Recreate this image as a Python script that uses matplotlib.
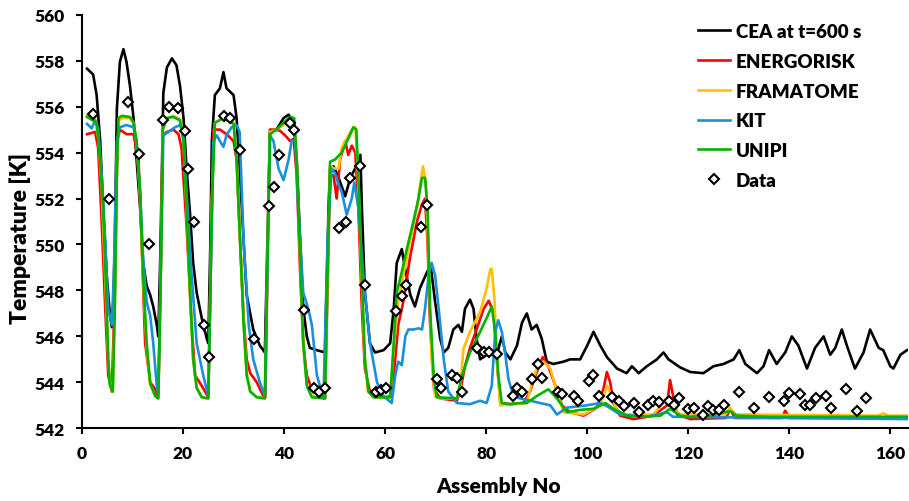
import matplotlib
matplotlib.use("Agg")
import matplotlib.pyplot as plt

plt.rcParams['font.family'] = ['Lato', 'DejaVu Sans']
plt.rcParams['font.weight'] = 'bold'

# ---------------- data ----------------
cea_x = [1.0,2.2,2.9,3.6,4.2,4.9,5.5,5.9,6.2,6.5,6.9,7.5,8.2,8.8,9.5,10.2,10.8,11.5,12.1,12.8,13.5,14.1,14.8,15.1,15.5,15.8,16.1,16.8,17.8,18.7,19.4,20.1,20.7,21.4,22.0,22.7,23.7,24.7,25.0,25.4,25.7,26.3,27.3,28.0,28.6,30.0,30.6,31.3,32.0,32.6,33.9,35.2,36.2,36.7,37.2,38.5,39.9,40.9,41.9,42.5,43.2,43.8,44.5,45.1,46.5,48.1,48.8,49.1,49.8,50.8,52.1,53.1,54.3,55.1,55.4,56.0,57.0,58.0,59.7,61.0,61.7,62.3,63.3,64.0,65.0,65.9,66.9,68.3,69.0,69.9,70.9,71.6,72.5,73.5,74.5,75.2,75.8,76.8,77.5,78.1,78.8,80.1,82.1,83.1,83.8,84.8,86.1,87.1,88.05,89.0,90.0,91.0,92.0,93.3,95.3,96.6,98.6,100.0,101.25,102.6,103.9,105.9,107.8,108.85,110.2,111.8,113.8,115.1,116.1,118.4,120.4,123.0,125.0,127.0,129.0,130.1,131.3,133.6,134.9,136.0,137.5,139.2,140.5,141.8,143.5,145.1,146.8,148.1,149.1,150.4,151.4,153.0,154.7,156.0,157.7,158.6,160.0,160.6,162.0,163.3]
cea_y = [557.65,557.4,556.5,554.5,551.6,548.65,547.0,546.4,547.5,550.1,555.9,557.95,558.5,557.95,556.9,555.5,553.7,551.6,549.2,548.2,547.8,547.3,546.5,546.0,549.5,553.0,556.6,557.7,558.1,557.8,556.9,555.5,553.3,551.3,549.2,547.9,546.8,545.9,545.7,550.0,554.5,556.5,556.8,557.5,556.8,556.5,555.5,553.0,550.1,547.8,546.3,545.6,545.3,550.0,554.9,555.0,555.5,555.65,555.3,553.7,550.1,547.2,546.0,545.5,545.4,545.3,551.6,553.3,553.4,552.9,552.1,552.9,553.4,553.9,551.6,547.9,545.7,545.3,545.4,545.7,547.2,549.2,549.8,548.9,547.8,547.3,548.1,548.8,549.1,547.5,545.9,545.3,545.5,546.3,546.5,546.2,547.2,547.6,547.2,545.9,545.0,545.2,545.2,546.0,545.3,545.0,545.6,546.6,547.0,546.3,546.5,545.9,544.9,544.8,544.9,545.0,545.0,545.6,546.2,545.6,545.1,544.6,544.4,544.7,544.4,544.7,545.0,545.3,545.0,544.65,544.45,544.4,544.7,544.8,545.0,545.4,544.8,544.4,544.7,545.4,544.8,545.3,546.0,545.6,544.6,545.5,546.0,545.2,545.5,546.3,545.6,544.6,545.3,546.3,545.5,545.4,544.7,544.6,545.2,545.4]

energ_x = [1.0,2.6,3.2,3.9,4.6,5.2,5.9,6.5,7.0,7.5,8.8,10.2,11.2,11.8,12.5,13.5,14.5,15.1,15.6,16.0,16.8,18.1,19.1,19.7,20.7,21.7,22.4,23.7,25.0,25.5,26.0,27.3,28.6,30.0,30.6,31.3,32.0,32.6,33.3,34.6,35.9,36.3,36.8,37.2,38.2,39.2,40.2,41.2,41.9,42.5,43.2,43.8,44.5,45.5,47.1,48.1,48.6,49.1,49.8,50.4,51.1,52.1,52.7,53.4,54.1,54.7,55.4,56.0,57.0,59.7,61.3,62.0,62.6,63.6,64.9,66.3,67.3,67.9,68.4,68.9,69.7,70.9,74.2,74.85,75.8,76.8,78.1,79.5,80.5,81.45,82.1,82.8,84.75,87.4,88.7,90.0,91.2,92.3,93.7,95.0,96.6,99.3,101.9,103.2,103.9,104.55,105.2,106.5,109.2,113.1,115.8,116.4,117.1,117.8,120.4,127.5,128.3,129.2,138.5,139.2,140.0,150.0,163.3]
energ_y = [554.8,554.9,554.2,551.0,547.2,544.3,543.6,548.0,554.5,555.0,554.8,554.8,553.7,550.1,545.7,544.0,543.7,543.35,549.0,554.75,554.9,555.0,554.8,554.2,550.8,546.5,544.3,543.85,543.35,549.0,555.0,555.0,554.8,554.5,553.7,550.1,546.8,545.0,544.4,544.0,543.4,543.35,550.0,555.0,555.0,554.95,554.75,554.5,554.6,553.0,548.65,545.7,544.3,543.7,543.4,543.3,548.0,553.0,553.0,552.0,553.7,554.5,553.9,554.3,554.0,551.6,547.2,544.6,543.6,543.35,543.4,545.0,546.5,547.5,549.4,551.0,551.75,552.0,550.1,546.5,543.7,543.3,543.2,543.6,544.7,545.5,546.3,547.2,547.55,547.05,545.0,543.1,543.05,543.1,543.6,544.45,545.1,544.7,543.85,543.0,542.7,542.55,542.9,543.7,544.45,544.0,543.1,542.55,542.4,542.55,543.0,544.1,543.3,542.6,542.4,542.45,542.85,542.45,542.45,542.77,542.45,542.45,542.45]

frama_x = [1.0,2.6,3.3,3.9,4.6,5.2,5.6,6.1,6.5,6.9,7.3,8.0,9.5,10.2,10.8,11.5,12.1,12.8,13.5,14.5,15.1,15.6,16.0,16.8,18.1,19.4,20.1,20.7,21.4,22.0,22.7,23.7,25.0,25.7,26.3,28.0,30.0,30.6,31.3,32.0,32.6,33.3,34.6,36.2,36.9,37.2,38.5,39.9,41.0,42.0,42.5,43.2,43.8,44.5,45.5,48.1,48.6,49.1,50.1,50.8,51.4,52.4,53.4,54.1,54.5,55.2,55.9,56.6,57.7,61.0,61.7,62.6,63.6,64.9,66.3,67.0,67.5,68.05,68.6,69.2,69.9,71.0,74.2,74.85,75.5,76.8,78.8,80.1,80.8,81.1,81.65,82.2,82.8,84.75,88.05,89.0,90.0,91.35,92.7,94.0,95.3,99.3,102.6,103.9,104.9,105.9,107.8,113.1,116.1,117.1,118.4,127.3,128.3,129.3,157.5,158.6,159.6,163.3]
frama_y = [555.6,555.5,554.5,552.5,548.5,545.0,543.8,543.6,547.5,553.5,555.4,555.5,555.5,555.3,554.4,552.0,548.4,545.5,543.9,543.4,543.3,549.0,555.1,555.5,555.6,555.45,554.5,551.5,547.8,545.0,543.8,543.35,543.3,552.0,555.3,555.5,555.3,553.8,550.2,546.6,544.4,543.6,543.35,543.3,551.8,554.9,555.0,555.2,555.4,555.4,553.6,549.3,545.6,543.9,543.4,543.3,548.5,553.4,553.3,553.3,554.2,554.6,555.0,555.1,553.7,549.5,545.3,543.6,543.35,543.35,545.5,547.5,548.65,550.1,551.6,552.7,553.4,552.7,549.4,545.0,543.4,543.3,543.3,543.7,545.45,546.2,547.05,548.1,548.9,548.95,547.6,544.7,543.0,543.05,543.1,543.9,544.6,544.9,544.6,543.6,542.7,542.6,543.0,543.85,543.4,542.75,542.6,542.6,543.4,542.85,542.6,542.6,542.9,542.6,542.55,542.65,542.55,542.55]

kit_x = [1.0,1.9,2.6,3.2,3.9,4.6,5.2,5.9,6.3,6.9,7.5,8.8,10.2,10.8,11.5,12.1,12.8,13.5,14.1,14.8,15.1,15.6,16.1,17.1,18.4,19.4,20.1,20.7,21.7,22.7,24.0,25.0,25.5,26.0,26.7,27.3,28.0,28.6,29.6,30.6,31.2,32.0,33.0,33.9,35.2,36.2,36.7,37.2,37.9,38.9,39.9,40.9,41.5,42.2,42.8,43.8,44.8,45.5,46.5,47.8,48.6,49.4,50.1,50.8,51.4,52.4,53.4,53.9,54.7,55.7,57.0,58.4,59.7,61.3,62.0,62.6,63.3,64.0,64.6,65.6,66.6,67.3,67.9,68.6,69.2,69.9,70.6,71.6,72.5,74.2,76.8,78.8,80.1,81.1,81.8,82.4,83.1,83.8,84.4,85.4,86.7,90.7,92.7,94.0,96.0,99.9,102.6,104.0,106.5,111.8,115.8,117.0,163.3]
kit_y = [555.25,555.05,555.4,555.05,553.0,550.1,547.2,546.5,548.65,554.5,555.1,555.2,555.1,554.5,552.3,549.4,547.5,546.9,545.7,543.85,543.5,549.0,554.75,554.9,555.1,555.2,554.75,552.3,548.65,545.7,544.3,543.4,549.0,554.5,554.75,554.5,554.25,554.75,555.1,555.2,554.9,550.1,546.5,545.0,544.0,543.4,549.0,554.75,554.5,553.3,552.8,553.7,554.5,554.5,551.6,547.9,547.2,546.5,544.3,543.3,550.1,553.3,553.1,552.6,552.3,551.3,552.0,552.7,551.6,548.65,545.7,544.0,543.4,543.1,544.3,544.9,544.75,546.0,546.3,546.3,546.35,546.3,547.2,548.65,549.2,548.65,547.2,545.0,543.6,543.1,543.05,543.2,543.1,543.85,546.2,546.7,546.2,545.2,544.15,543.4,543.3,543.1,543.0,542.6,542.9,543.0,543.1,542.95,542.6,542.5,542.7,542.5,542.4]

unipi_x = [1.0,2.9,3.6,4.2,4.9,5.2,5.5,6.1,6.5,6.9,7.2,7.9,9.5,10.2,10.8,11.5,12.1,12.8,13.5,14.5,15.1,15.6,16.0,16.8,18.1,19.4,20.1,20.7,21.4,22.0,22.7,23.7,25.0,25.7,26.3,28.0,30.0,30.6,31.3,32.0,32.6,33.3,34.6,36.2,36.9,37.2,38.5,39.9,41.2,42.0,42.5,43.2,43.8,44.5,45.5,48.1,48.6,49.1,50.1,51.4,52.7,53.7,54.3,54.7,55.4,56.0,56.7,57.7,61.0,61.7,62.3,63.3,64.3,65.6,66.6,67.3,67.9,68.4,68.9,69.6,70.2,74.2,75.2,76.8,78.8,80.1,81.1,81.8,82.4,83.1,84.75,86.7,88.05,90.0,92.3,94.0,96.0,98.6,101.25,103.6,105.2,107.8,110.5,114.5,116.4,118.4,120.4,124.3,128.3,129.6,136.2,142.8,149.4,158.6,163.3]
unipi_y = [555.55,555.3,553.7,551.6,547.2,545.0,543.9,543.6,547.2,553.0,555.5,555.6,555.55,555.3,554.5,552.3,548.65,545.7,543.95,543.4,543.3,548.65,555.0,555.5,555.55,555.4,554.5,551.6,547.9,545.0,543.75,543.35,543.3,551.6,555.3,555.5,555.25,553.7,550.1,546.5,544.3,543.6,543.35,543.3,551.6,554.8,555.0,555.3,555.55,555.5,553.7,549.4,545.7,543.85,543.35,543.3,548.65,553.6,553.7,554.0,554.6,555.1,555.0,553.0,548.65,545.0,543.6,543.35,543.35,545.7,547.9,548.8,549.8,551.0,552.0,552.9,552.9,551.6,547.2,544.3,543.35,543.3,544.3,545.3,546.2,546.8,547.3,546.2,544.3,543.1,543.05,543.1,543.1,543.4,543.7,543.3,542.7,542.8,542.85,543.1,542.85,542.55,542.5,542.55,542.85,542.55,542.5,542.55,542.75,542.55,542.5,542.5,542.5,542.5,542.5]

data_x = [2.1,5.4,9.2,11.3,13.3,16.1,17.2,19.1,20.3,20.9,22.2,24.2,25.2,28.1,29.2,31.2,34.1,37.1,38.1,38.9,41.1,42.05,44.0,46.0,47.0,48.1,50.96,52.2,53.1,55.05,56.1,58.2,59.2,60.2,62.2,63.3,64.2,67.2,68.3,70.2,71.1,73.2,74.3,75.2,78.15,79.5,80.5,82.2,85.3,86.2,87.1,89.05,90.2,91.15,94.2,95.1,97.3,98.15,100.3,101.1,102.4,105.0,106.2,107.2,109.2,110.3,112.1,113.0,114.25,116.1,117.1,118.1,120.0,121.15,123.0,124.0,125.0,126.0,127.0,130.1,133.1,136.0,139.0,140.0,142.1,143.1,144.1,145.25,147.2,148.2,151.25,153.4,155.2]
data_y = [555.7,551.96,556.2,553.95,550.0,555.4,555.97,555.94,554.95,553.3,550.98,546.5,545.1,555.6,555.5,554.1,545.9,551.66,552.5,553.9,555.3,555.0,547.15,543.77,543.57,543.77,550.7,551.0,552.9,553.4,548.24,543.57,543.67,543.77,547.1,547.75,548.24,550.74,551.73,544.15,543.74,544.3,544.2,543.57,545.5,545.3,545.3,545.25,543.4,543.75,543.6,544.15,544.8,544.2,543.6,543.5,543.4,543.2,544.05,544.3,543.4,543.35,543.2,542.95,543.1,542.7,543.0,543.2,543.15,543.2,543.0,543.3,542.85,542.9,542.6,542.95,542.8,542.8,543.0,543.6,542.9,543.35,543.2,543.55,543.5,543.0,543.0,543.3,543.4,542.9,543.7,542.75,543.3]

labels = ["CEA at t=600 s", "ENERGORISK", "FRAMATOME", "KIT", "UNIPI", "Data"]
colors = ["#000000", "#FF0000", "#FFC000", "#1A8FE0", "#00B400"]
x_ticks = [0, 20, 40, 60, 80, 100, 120, 140, 160]
y_ticks = [542, 544, 546, 548, 550, 552, 554, 556, 558, 560]

# ---------------- figure ----------------
W, H = 909, 502
fig = plt.figure(figsize=(W/100, H/100), dpi=100)
L, R, T, B = 82, 908, 15.7, 429.3
ax = fig.add_axes([L/W, 1-B/H, (R-L)/W, (B-T)/H])

series = [(cea_x, cea_y), (energ_x, energ_y), (frama_x, frama_y), (kit_x, kit_y), (unipi_x, unipi_y)]
for (xs, ys), c, lab in zip(series, colors, labels[:5]):
    ax.plot(xs, ys, color=c, lw=1.9, label=lab, solid_joinstyle='round')
ax.plot(data_x, data_y, linestyle='none', marker='D', markersize=5.5,
        markerfacecolor='white', markeredgecolor='black', markeredgewidth=1.5,
        label=labels[5], zorder=5)

ax.set_xlim(0, 163.5)
ax.set_ylim(542, 560)
ax.set_xticks(x_ticks)
ax.set_yticks(y_ticks)
for s in ['top', 'right']:
    ax.spines[s].set_visible(False)
for s in ['left', 'bottom']:
    ax.spines[s].set_linewidth(1.5)
ax.tick_params(direction='out', length=4, width=1.5, labelsize=12.5)
ax.tick_params(axis='x', pad=8)
ax.tick_params(axis='y', pad=8.5)
for t in ax.get_xticklabels() + ax.get_yticklabels():
    t.set_fontweight('heavy')

ax.set_xlabel("Assembly No", fontsize=15, fontweight='heavy')
ax.set_ylabel("Temperature [K]", fontsize=16.5, fontweight='heavy')
ax.xaxis.set_label_coords((499 - L)/(R - L), (B - 477)/(B - T))
ax.yaxis.set_label_coords((31 - L)/(R - L), (B - 238)/(B - T))

leg = ax.legend(loc='upper left', bbox_to_anchor=((698 - L)/(R - L), (B - 24)/(B - T)),
                frameon=False, prop={'size': 13.5, 'weight': 'heavy'},
                handlelength=1.7, labelspacing=0.68, handletextpad=0.3,
                borderaxespad=0, borderpad=0)

fig.savefig("out.png", dpi=100)
